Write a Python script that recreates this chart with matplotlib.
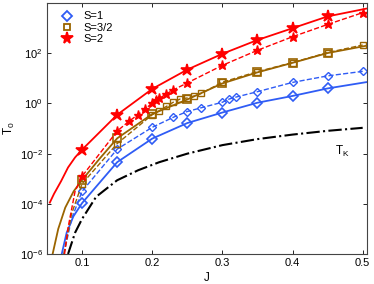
import numpy as np
import matplotlib
matplotlib.use('Agg')
import matplotlib.pyplot as plt
from matplotlib.ticker import FixedLocator, NullLocator

plt.rcParams.update({
    'font.family': ['Liberation Sans', 'DejaVu Sans'],
    'font.size': 8,
    'mathtext.fontset': 'custom',
    'mathtext.rm': 'Liberation Sans',
    'mathtext.it': 'Liberation Sans',
    'xtick.direction': 'in',
    'ytick.direction': 'in',
    'xtick.top': True,
    'ytick.right': True,
})

# colours
c_blue = '#2f5cf5'
c_brown = '#9a6400'
c_red = '#ff0000'

# values stored as log10(T)

# S=1 (blue)
J_s1_fit = [0.071, 0.078, 0.0876, 0.1, 0.15, 0.2, 0.25, 0.3, 0.35, 0.4, 0.45, 0.505]
L_s1_fit = [-6.0, -5.15, -4.5, -3.97, -2.34, -1.4, -0.78, -0.36, 0.03, 0.3, 0.6, 0.85]
J_s1_big = [0.1, 0.15, 0.2, 0.25, 0.3, 0.35, 0.4, 0.45]
L_s1_big = [-3.97, -2.34, -1.4, -0.78, -0.36, 0.03, 0.3, 0.6]
J_s1_low = [0.074, 0.085]
L_s1_low = [-6.0, -4.6]
J_s1_pts = [0.1, 0.15, 0.2, 0.23, 0.25, 0.27, 0.3, 0.31, 0.32, 0.35, 0.4, 0.45, 0.5]
L_s1_pts = [-3.5, -1.82, -0.95, -0.55, -0.32, -0.17, 0.05, 0.18, 0.26, 0.47, 0.84, 1.1, 1.28]

# S=3/2 (brown)
J_s32_fit = [0.058, 0.066, 0.076, 0.088, 0.1, 0.125, 0.15, 0.2, 0.25, 0.3, 0.35, 0.4, 0.45, 0.505]
L_s32_fit = [-6.0, -5.0, -4.15, -3.5, -3.05, -2.2, -1.39, -0.42, 0.16, 0.8, 1.24, 1.62, 2.01, 2.3]
J_s32_big = [0.1, 0.15, 0.2, 0.25, 0.3, 0.35, 0.4, 0.45]
L_s32_big = [-3.05, -1.39, -0.42, 0.16, 0.8, 1.24, 1.62, 2.01]
J_s32_low = [0.074, 0.085]
L_s32_low = [-6.0, -4.4]
J_s32_pts = [0.1, 0.15, 0.2, 0.21, 0.22, 0.23, 0.24, 0.25, 0.26, 0.27, 0.3, 0.35, 0.4, 0.45, 0.5]
L_s32_pts = [-3.2, -1.6, -0.45, -0.29, -0.12, 0.05, 0.18, 0.22, 0.3, 0.4, 0.85, 1.27, 1.63, 2.03, 2.33]

# S=2 (red)
J_s2_fit = [0.054, 0.06, 0.07, 0.08, 0.09, 0.1, 0.15, 0.2, 0.25, 0.3, 0.35, 0.4, 0.45, 0.505]
L_s2_fit = [-3.95, -3.6, -3.1, -2.55, -2.15, -1.84, -0.45, 0.58, 1.35, 1.98, 2.53, 3.0, 3.47, 3.78]
J_s2_big = [0.1, 0.15, 0.2, 0.25, 0.3, 0.35, 0.4, 0.45]
L_s2_big = [-1.84, -0.45, 0.58, 1.35, 1.98, 2.53, 3.0, 3.47]
J_s2_low = [0.075, 0.08, 0.09]
L_s2_low = [-6.0, -4.95, -3.5]
J_s2_pts = [0.1, 0.15, 0.1667, 0.18, 0.19, 0.2, 0.205, 0.21, 0.22, 0.23, 0.25, 0.3, 0.35, 0.4, 0.45, 0.5]
L_s2_pts = [-2.9, -1.1, -0.71, -0.44, -0.21, 0.01, 0.12, 0.2, 0.38, 0.54, 0.82, 1.52, 2.12, 2.66, 3.15, 3.62]

# Kondo temperature
J_tk = [0.08, 0.09, 0.1, 0.12, 0.15, 0.18, 0.21, 0.25, 0.3, 0.35, 0.4, 0.45, 0.5]
L_tk = [-6.0, -5.15, -4.6, -3.72, -3.06, -2.66, -2.34, -2.0, -1.66, -1.42, -1.24, -1.09, -0.97]

xticks = [0.1, 0.2, 0.3, 0.4, 0.5]
ydecades = [-6, -4, -2, 0, 2, 4]

def T(v):
    return 10.0 ** np.asarray(v)

fig = plt.figure(figsize=(3.74, 2.84), dpi=100)
ax = fig.add_axes([0.1257, 0.1056, 0.8553, 0.8834])

series = [
    (c_blue, 'D', 5.0, 3.8, J_s1_fit, L_s1_fit, J_s1_big, L_s1_big, J_s1_low, L_s1_low, J_s1_pts, L_s1_pts, 'S=1'),
    (c_brown, 's', 5.5, 4.0, J_s32_fit, L_s32_fit, J_s32_big, L_s32_big, J_s32_low, L_s32_low, J_s32_pts, L_s32_pts, 'S=3/2'),
    (c_red, '*', 9.0, 6.5, J_s2_fit, L_s2_fit, J_s2_big, L_s2_big, J_s2_low, L_s2_low, J_s2_pts, L_s2_pts, 'S=2'),
]

handles = []
for col, mk, ms_big, ms_small, jf, lf, jb, lb, jl, ll, jp, lp, lab in series:
    ax.plot(jf, T(lf), '-', color=col, lw=1.3)
    filled = col if mk == '*' else 'none'
    ax.plot(jb, T(lb), ls='none', marker=mk, ms=ms_big, mfc=filled, mec=col, mew=1.2)
    ax.plot(list(jl) + list(jp), T(list(ll) + list(lp)), '--', color=col, lw=1.0)
    ax.plot(jp, T(lp), ls='none', marker=mk, ms=ms_small, mfc=filled, mec=col, mew=1.0)
    h, = ax.plot([], [], ls='none', marker=mk, ms=8.5 if mk == '*' else 5.0,
                 mfc=filled, mec=col, mew=1.3, label=lab)
    handles.append(h)

ax.plot(J_tk, T(L_tk), '-.', color='black', lw=1.5)
ax.text(0.46, 1.2e-2, r'T$_\mathregular{K}$', fontsize=8.5, va='center', ha='left')

ax.set_yscale('log')
ax.set_xlim(0.05, 0.506)
ax.set_ylim(1e-6, 1e4)
ax.xaxis.set_major_locator(FixedLocator(xticks))
ax.set_xticklabels([str(v) for v in xticks])
ax.yaxis.set_major_locator(FixedLocator([10.0 ** d for d in ydecades]))
ax.yaxis.set_minor_locator(NullLocator())
ax.set_yticklabels([r'10$^{%d}$' % d if d < 4 else '' for d in ydecades])
ax.tick_params(which='major', length=3, width=0.6, labelsize=8, pad=3)
for s in ax.spines.values():
    s.set_linewidth(0.8)
    s.set_color('#444444')

ax.set_xlabel('J', fontsize=8.5, labelpad=3)
ax.set_ylabel(r'T$_0$', fontsize=8.5, labelpad=2)

ax.legend(handles=handles, loc='upper left', bbox_to_anchor=(0.015, 1.0),
          frameon=False, fontsize=8,
          handlelength=1.2, handletextpad=0.9, borderpad=0.45, labelspacing=0.12,
          borderaxespad=0.3)

fig.savefig('out.png', dpi=100)
